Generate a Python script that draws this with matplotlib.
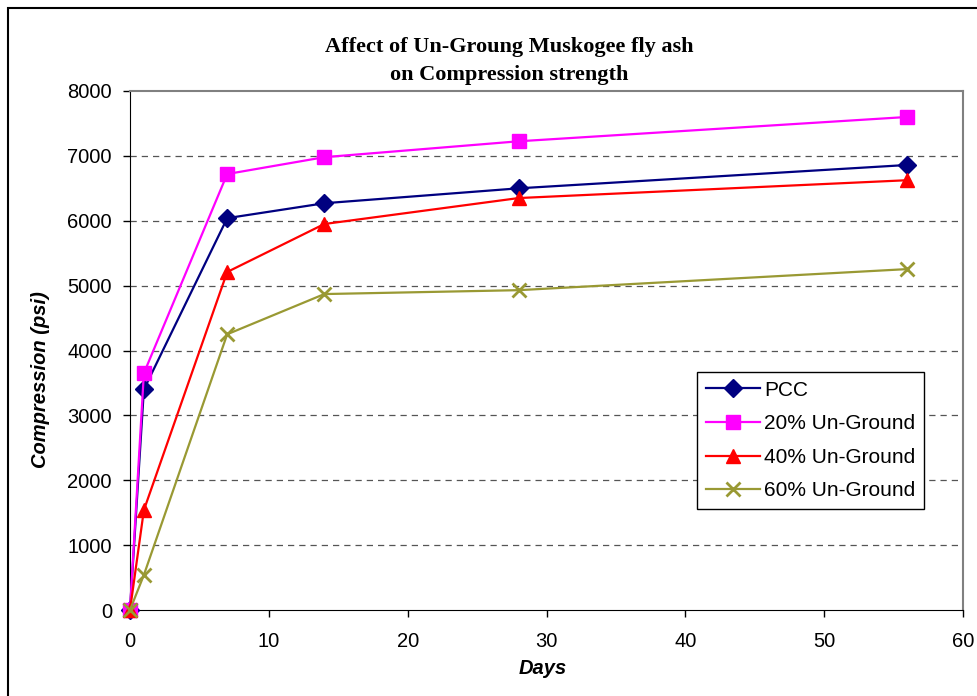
import matplotlib
matplotlib.use("Agg")
import matplotlib.pyplot as plt
from matplotlib.patches import Rectangle

# ---------------------------------------------------------------
# Data
# ---------------------------------------------------------------
days = [0, 1, 7, 14, 28, 56]
pcc = [0, 3400, 6040, 6270, 6500, 6860]
ug20 = [0, 3650, 6720, 6980, 7225, 7600]
ug40 = [0, 1540, 5210, 5950, 6350, 6625]
ug60 = [0, 540, 4250, 4870, 4930, 5255]

labels = ["PCC", "20% Un-Ground", "40% Un-Ground", "60% Un-Ground"]
colors = ["#000080", "#FF00FF", "#FF0000", "#999933"]
markers = ["D", "s", "^", "x"]

plt.rcParams["font.family"] = ["Liberation Sans", "DejaVu Sans"]

W, H = 978, 696
fig = plt.figure(figsize=(W / 100, H / 100), dpi=100)
ax = fig.add_axes([130 / W, 1 - 610 / H, 833 / W, 519 / H])

series = [pcc, ug20, ug40, ug60]
for vals, lab, col, mk in zip(series, labels, colors, markers):
    ms = {"D": 9.5, "s": 10.5, "^": 10.5, "x": 10.5}[mk]
    ax.plot(days, vals, color=col, marker=mk, markersize=ms, linewidth=1.6,
            markeredgewidth=2 if mk == "x" else 1, label=lab, clip_on=False, zorder=3)

ax.set_xlim(0, 60)
ax.set_ylim(0, 8000)
ax.set_xticks(range(0, 61, 10))
ax.set_yticks(range(0, 8001, 1000))
ax.tick_params(axis="both", direction="out", length=5, width=1, labelsize=14.5, colors="black")
ax.tick_params(axis="x", pad=11)
ax.tick_params(axis="y", pad=8)

for y in range(1000, 8000, 1000):
    ax.axhline(y, color="#555555", linestyle=(0, (5, 4)), linewidth=0.9, zorder=1)

ax.spines["left"].set_color("black")
ax.spines["bottom"].set_color("black")
ax.spines["top"].set_color("#808080")
ax.spines["right"].set_color("#808080")
ax.spines["top"].set_linewidth(1.5)
ax.spines["right"].set_linewidth(1.5)

ax.set_xlabel("Days", fontsize=14.5, fontweight="bold", style="italic")
ax.set_ylabel("Compression (psi)", fontsize=14.5, fontweight="bold", style="italic")
ax.xaxis.set_label_coords((543 - 130) / 833, -(669 - 610) / 519)
ax.yaxis.set_label_coords(-(130 - 41) / 833, (610 - 380) / 519)
ax.xaxis.label.set_va("center")
ax.yaxis.label.set_va("center")

fig.text(509 / W, 1 - 61 / H, "Affect of Un-Groung Muskogee fly ash\non Compression strength",
         ha="center", va="center", fontsize=16, fontweight="bold",
         family="Liberation Serif", linespacing=1.5)

leg = ax.legend(loc="upper left", bbox_to_anchor=(697 / W, 1 - 372 / H),
                bbox_transform=fig.transFigure, fontsize=15,
                frameon=True, fancybox=False, edgecolor="black", framealpha=1,
                handlelength=2.6, borderpad=0.42, labelspacing=0.7, handletextpad=0.2,
                borderaxespad=0)
leg.get_frame().set_linewidth(1)

# outer chart frame
fig.patches.append(Rectangle((8 / W, -0.01), 1.0, 1 - 8 / H + 0.01,
                             transform=fig.transFigure, fill=False,
                             edgecolor="black", linewidth=1.5))

fig.savefig("out.png", dpi=100)
